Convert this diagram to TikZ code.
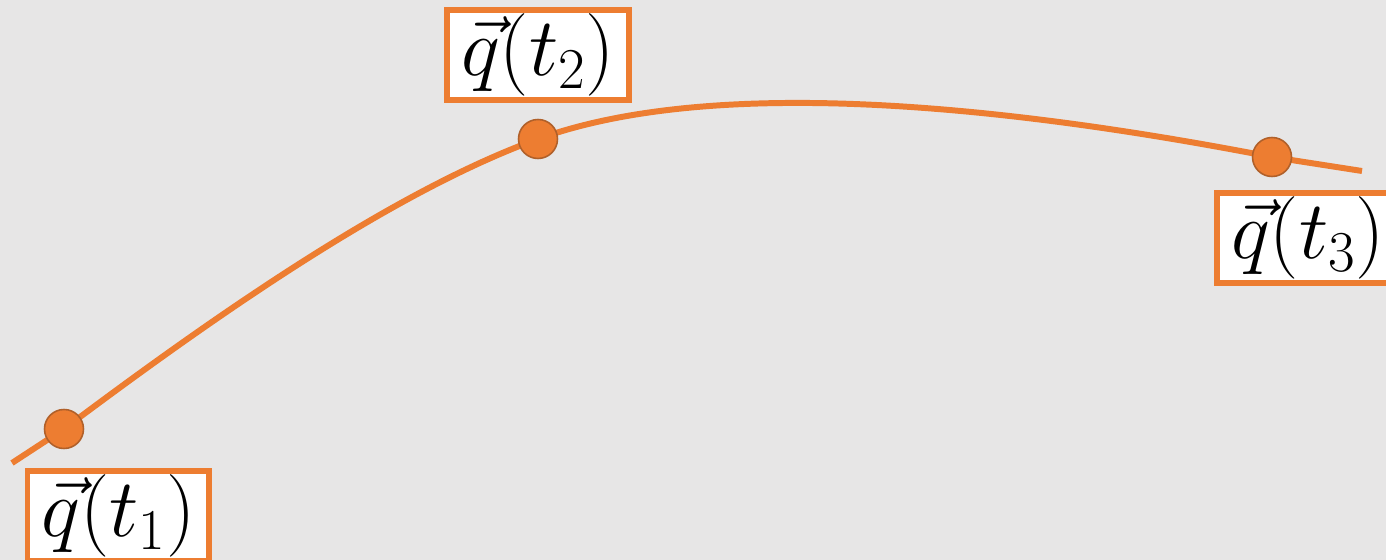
\documentclass[tikz,border=0pt]{standalone}
\usepackage{fix-cm}
\usepackage{tikz}
\usetikzlibrary{positioning}
\definecolor{TRJorange}{HTML}{ED7D31}
\definecolor{TRJedge}{HTML}{B0602A}
\definecolor{TRJbg}{HTML}{E7E6E6}

\begin{document}
\begin{tikzpicture}[x=0.02cm, y=-0.02cm,
  pointdot/.style={circle, fill=TRJorange, draw=TRJedge, line width=0.9pt,
    minimum size=0.78cm, inner sep=0pt},
  qlabel/.style={draw=TRJorange, line width=3.4pt, fill=white,
    minimum width=3.64cm, minimum height=1.8cm, inner sep=0pt,
    font=\fontsize{47}{56}\selectfont},
  trajectory/.style={draw=TRJorange, line width=3.4pt}]
\useasboundingbox (0,0) rectangle (1386,560);
\fill[TRJbg] (0,0) rectangle (1386,560);

% trajectory through the three samples
\coordinate (start) at (12,463);
\coordinate (p1) at (64,429);
\coordinate (p2) at (538,139);
\coordinate (p3) at (1272,157);
\coordinate (stop) at (1362,171);

\draw[trajectory] (start) -- (p1)
  .. controls +(160,-120) and +(-141,51) .. (p2)
  .. controls +(188,-68) and +(-232,-45) .. (p3)
  -- (stop);

% sample points
\node[pointdot] (d1) at (p1) {};
\node[pointdot] (d2) at (p2) {};
\node[pointdot] (d3) at (p3) {};

\node[qlabel, below of=d1, node distance=1.74cm, xshift=1.09cm] (q1) {$\vec{q}(t_1)$};
\node[qlabel, above of=d2, node distance=1.68cm] (q2) {$\vec{q}(t_2)$};
\node[qlabel, below of=d3, node distance=1.62cm, xshift=0.72cm] (q3) {$\vec{q}(t_3)$};
\end{tikzpicture}
\end{document}
